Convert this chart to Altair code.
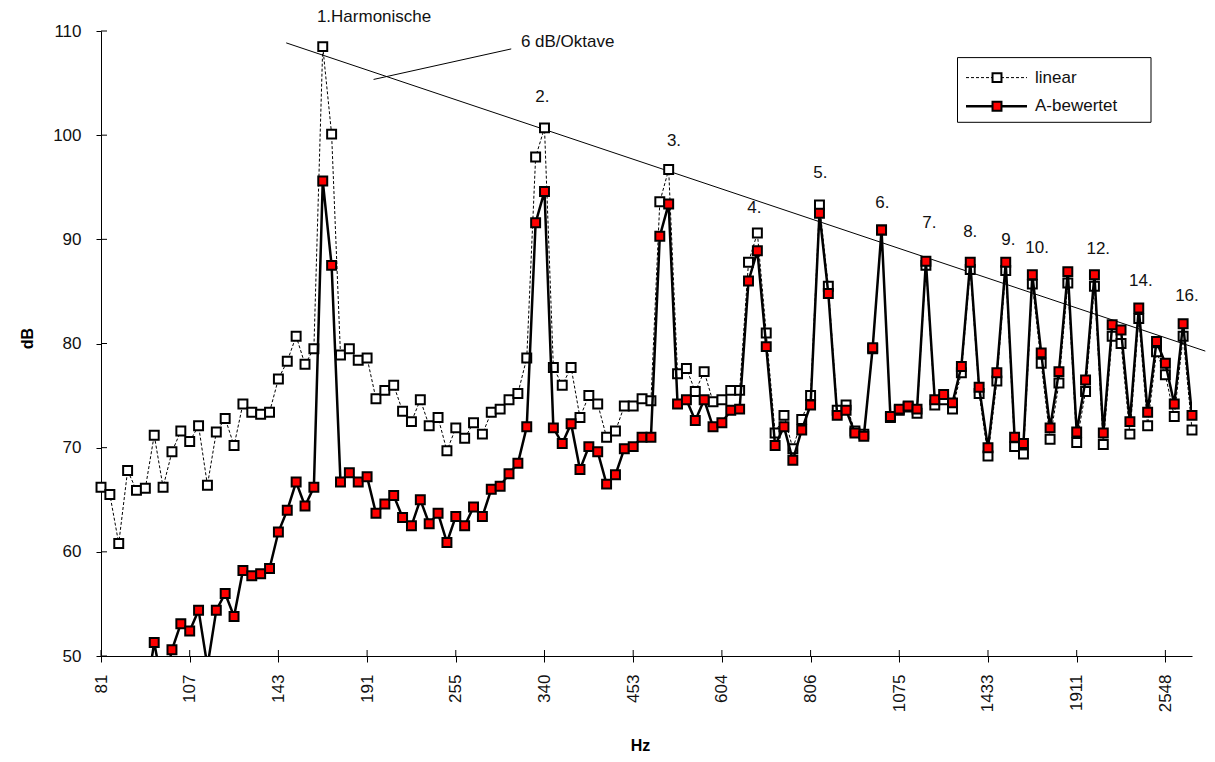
import altair as alt
import pandas as pd

# ---- data -------------------------------------------------------------
freq_labels = ["81", "107", "143", "191", "255", "340", "453", "604",
               "806", "1075", "1433", "1911", "2548"]
tick_idx = [0, 10, 20, 30, 40, 50, 60, 70, 80, 90, 100, 110, 120]
y_ticks = [50, 60, 70, 80, 90, 100, 110]

linear_db = [
    66.2, 65.5, 60.8, 67.8, 65.9, 66.1, 71.2, 66.2, 69.6, 71.6,
    70.6, 72.1, 66.4, 71.5, 72.8, 70.2, 74.2, 73.4, 73.2, 73.4,
    76.6, 78.3, 80.7, 78.0, 79.5, 108.5, 100.1, 78.9, 79.5, 78.4,
    78.6, 74.7, 75.5, 76.0, 73.5, 72.5, 74.6, 72.1, 72.9, 69.7,
    71.9, 70.9, 72.4, 71.3, 73.4, 73.7, 74.6, 75.2, 78.6, 97.9,
    100.7, 77.7, 76.0, 77.7, 72.9, 75.0, 74.2, 71.0, 71.6, 74.0,
    74.0, 74.7, 74.5, 93.6, 96.7, 77.1, 77.6, 75.4, 77.3, 74.4,
    74.6, 75.5, 75.5, 87.8, 90.6, 81.0, 71.4, 73.1, 69.9, 72.7,
    75.0, 93.3, 85.5, 73.6, 74.1, 71.6, 71.3, 79.5, 90.9, 72.9,
    73.6, 73.9, 73.3, 87.5, 74.1, 74.6, 73.7, 77.2, 87.1, 75.2,
    69.2, 76.4, 87.0, 70.1, 69.4, 85.7, 78.1, 70.8, 76.2, 85.8,
    70.5, 75.4, 85.5, 70.3, 80.7, 80.0, 71.3, 82.4, 72.1, 79.2,
    77.0, 73.0, 80.7, 71.7,
]
a_db = [
    43.4, 43.2, 39.0, 46.5, 45.1, 45.8, 51.3, 46.7, 50.6, 53.1,
    52.4, 54.4, 49.0, 54.4, 56.0, 53.8, 58.2, 57.7, 57.9, 58.4,
    61.9, 64.0, 66.7, 64.4, 66.2, 95.6, 87.5, 66.7, 67.6, 66.7,
    67.2, 63.7, 64.6, 65.4, 63.3, 62.5, 65.0, 62.7, 63.7, 60.9,
    63.4, 62.5, 64.3, 63.4, 66.0, 66.3, 67.5, 68.5, 72.0, 91.6,
    94.6, 71.9, 70.4, 72.3, 67.9, 70.1, 69.6, 66.5, 67.4, 69.9,
    70.1, 71.0, 71.0, 90.3, 93.4, 74.2, 74.6, 72.6, 74.6, 72.0,
    72.4, 73.6, 73.7, 86.0, 88.9, 79.7, 70.2, 72.0, 68.8, 71.7,
    74.1, 92.5, 84.8, 73.1, 73.6, 71.4, 71.1, 79.6, 90.9, 73.0,
    73.7, 74.0, 73.7, 87.9, 74.6, 75.1, 74.3, 77.8, 87.8, 75.8,
    70.0, 77.2, 87.8, 71.0, 70.4, 86.6, 79.1, 71.9, 77.3, 86.9,
    71.5, 76.5, 86.6, 71.4, 81.8, 81.3, 72.5, 83.4, 73.4, 80.2,
    78.1, 74.2, 81.9, 73.1,
]

# 6 dB/Oktave reference line and its leader line (index, dB)
trend_i = [20.88, 124.5]
trend_db = [108.86, 79.27]
leader_i = [30.73, 46.25]
leader_db = [105.35, 108.28]

ann_text = ["1.Harmonische", "6 dB/Oktave", "2.", "3.", "4.", "5.", "6.",
            "7.", "8.", "9.", "10.", "12.", "14.", "16."]
ann_i = [24.34, 47.34, 48.95, 63.8, 72.85, 80.3, 87.3,
         92.6, 97.2, 101.5, 104.2, 111.1, 115.9, 121.1]
ann_db = [111.35, 108.95, 103.68, 99.45, 93.0, 96.35, 93.47,
          91.55, 90.7, 89.9, 89.2, 89.06, 86.0, 84.55]

legend_names = ["linear", "A-bewertet"]

# ---- chart --------------------------------------------------------------
N = len(linear_db)
W, H = 1091, 625
FONT = "Liberation Sans"
FS = 17

lin_df = pd.DataFrame({"i": list(range(N)), "db": linear_db})
a_df = pd.DataFrame({"i": list(range(N)), "db": a_db})

x_scale = alt.Scale(domain=[0, N - 1], nice=False, zero=False)
y_scale = alt.Scale(domain=[50, 110], nice=False, zero=False)

label_expr = "[" + ",".join("'%s'" % l for l in freq_labels) + "][round(datum.value/10)]"

x_axis = alt.Axis(values=tick_idx, labelExpr=label_expr, labelAngle=270,
                  labelFont=FONT, labelFontSize=FS, labelColor="#111",
                  labelPadding=12, tickSize=6, tickColor="#000",
                  domainColor="#000", grid=False, title="Hz",
                  titleFont=FONT, titleFontSize=16, titleFontWeight="bold",
                  titleColor="#000", titleX=539, titleY=89,
                  titleBaseline="middle", titleAlign="center",
                  labelOverlap=False, labelFlush=False)
y_axis = alt.Axis(values=y_ticks, labelFont=FONT, labelFontSize=FS,
                  labelColor="#111", labelPadding=15, tickSize=5,
                  tickColor="#000", domainColor="#000", grid=False,
                  title="dB", titleFont=FONT, titleFontSize=16,
                  titleFontWeight="bold", titleColor="#000",
                  titleX=-74, titleY=307, titleAngle=270,
                  titleBaseline="middle", titleAlign="center")

X = alt.X("i:Q", scale=x_scale, axis=x_axis)
Y = alt.Y("db:Q", scale=y_scale, axis=y_axis)

lin_line = alt.Chart(lin_df).mark_line(
    color="black", strokeWidth=1, strokeDash=[3, 2], clip=True
).encode(x=X, y=Y)
lin_pts = alt.Chart(lin_df).transform_filter("datum.db >= 50").mark_point(
    shape="square", size=80, filled=True, fill="white", stroke="black",
    strokeWidth=2, opacity=1
).encode(x=X, y=Y)

a_line = alt.Chart(a_df).mark_line(
    color="black", strokeWidth=2.5, clip=True
).encode(x=X, y=Y)
a_pts = alt.Chart(a_df).transform_filter("datum.db >= 50").mark_point(
    shape="square", size=80, filled=True, fill="#ff0000", stroke="black",
    strokeWidth=2, opacity=1
).encode(x=X, y=Y)

trend = alt.Chart(pd.DataFrame({"i": trend_i, "db": trend_db})).mark_line(
    color="black", strokeWidth=1, clip=False
).encode(x=X, y=Y)
leader = alt.Chart(pd.DataFrame({"i": leader_i, "db": leader_db})).mark_line(
    color="black", strokeWidth=1, clip=False
).encode(x=X, y=Y)

ann = alt.Chart(pd.DataFrame({"i": ann_i, "db": ann_db, "t": ann_text})).mark_text(
    align="left", baseline="middle", font=FONT, fontSize=FS, color="#111",
    clip=False
).encode(x=X, y=Y, text="t:N")

# inner halves of the crossing tick marks
ytick_in = alt.Chart(pd.DataFrame({"db": y_ticks})).mark_rule(
    color="black", strokeWidth=1
).encode(y=Y, x=alt.value(0), x2=alt.value(6))
xtick_in = alt.Chart(pd.DataFrame({"i": tick_idx})).mark_rule(
    color="black", strokeWidth=1
).encode(x=X, y=alt.value(H - 6), y2=alt.value(H))

# legend box
one = alt.Data(values=[{"a": 1}])
leg_box = alt.Chart(one).mark_rect(
    fill="white", stroke="black", strokeWidth=1
).encode(x=alt.value(856.5), x2=alt.value(1050), y=alt.value(26.6), y2=alt.value(91.3))
leg_l1 = alt.Chart(one).mark_rule(
    color="black", strokeWidth=1, strokeDash=[3, 2]
).encode(x=alt.value(865), x2=alt.value(926), y=alt.value(46.6))
leg_l2 = alt.Chart(one).mark_rule(
    color="black", strokeWidth=2.5
).encode(x=alt.value(865), x2=alt.value(926), y=alt.value(75.3))
leg_p1 = alt.Chart(one).mark_point(
    shape="square", size=80, filled=True, fill="white", stroke="black",
    strokeWidth=2, opacity=1
).encode(x=alt.value(896), y=alt.value(46.6))
leg_p2 = alt.Chart(one).mark_point(
    shape="square", size=80, filled=True, fill="#ff0000", stroke="black",
    strokeWidth=2, opacity=1
).encode(x=alt.value(896), y=alt.value(75.3))
leg_t1 = alt.Chart(one).mark_text(
    align="left", baseline="middle", font=FONT, fontSize=FS, color="#111",
    text=legend_names[0]
).encode(x=alt.value(934), y=alt.value(46.6))
leg_t2 = alt.Chart(one).mark_text(
    align="left", baseline="middle", font=FONT, fontSize=FS, color="#111",
    text=legend_names[1]
).encode(x=alt.value(934), y=alt.value(75.3))

chart = alt.layer(
    lin_line, ytick_in, xtick_in, trend, leader, lin_pts, a_line, a_pts, ann,
    leg_box, leg_l1, leg_l2, leg_p1, leg_p2, leg_t1, leg_t2
).properties(
    width=W, height=H,
    autosize=alt.AutoSizeParams(type="none"),
    padding={"left": 93, "top": 23, "right": 15, "bottom": 98},
    background="white",
).configure_view(strokeWidth=0)

chart.save("out.html", embed_options={"renderer": "svg", "actions": False})
